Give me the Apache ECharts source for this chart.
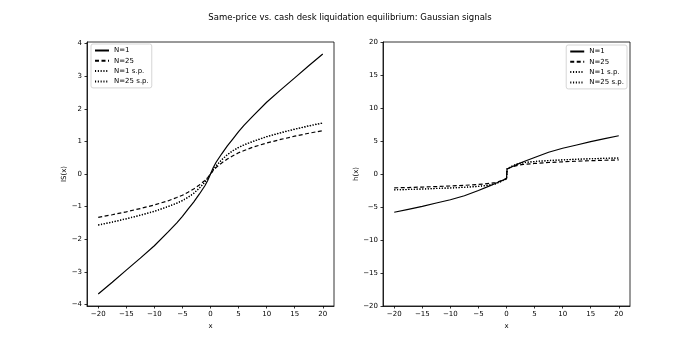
<!DOCTYPE html>
<html>
<head>
<meta charset="utf-8">
<script src="https://cdn.jsdelivr.net/npm/echarts@6/dist/echarts.min.js"></script>
<style>
* { margin: 0; padding: 0; }
body { background: #fff; }
#chart { width: 700px; height: 350px; }
</style>
</head>
<body>
<div id="chart"></div>
<script>
// left panel: S(x)
const xLeft = [-20, -17.5, -15, -12.5, -10, -7.5, -6, -5, -4, -3, -2, -1, -0.5, 0, 0.5, 1, 2, 3, 4, 5, 6, 7.5, 10, 12.5, 15, 17.5, 20]
const sN1 = [-3.68, -3.32, -2.95, -2.58, -2.2, -1.77, -1.5, -1.3, -1.08, -0.86, -0.62, -0.36, -0.2, 0, 0.2, 0.36, 0.62, 0.86, 1.08, 1.3, 1.5, 1.77, 2.2, 2.58, 2.95, 3.32, 3.68]
const sN25 = [-1.33, -1.25, -1.16, -1.06, -0.95, -0.82, -0.72, -0.65, -0.56, -0.46, -0.34, -0.2, -0.11, 0, 0.11, 0.2, 0.34, 0.46, 0.56, 0.65, 0.72, 0.82, 0.95, 1.06, 1.16, 1.25, 1.33]
const sN1sp = [-1.57, -1.48, -1.38, -1.27, -1.15, -1.0, -0.9, -0.82, -0.72, -0.6, -0.44, -0.25, -0.13, 0, 0.13, 0.25, 0.44, 0.6, 0.72, 0.82, 0.9, 1.0, 1.15, 1.27, 1.38, 1.48, 1.57]
const sN25sp = [-1.56, -1.47, -1.37, -1.26, -1.14, -0.99, -0.89, -0.81, -0.71, -0.59, -0.43, -0.25, -0.13, 0, 0.13, 0.25, 0.43, 0.59, 0.71, 0.81, 0.89, 0.99, 1.14, 1.26, 1.37, 1.47, 1.56]

// right panel: h(x)
const xRight = [-20, -17.5, -15, -12.5, -10, -7.5, -5, -3, -2, -1, 0, 0.1, 1, 2, 3, 5, 7.5, 10, 12.5, 15, 17.5, 20]
const hN1 = [-5.8, -5.35, -4.9, -4.4, -3.9, -3.3, -2.5, -1.8, -1.45, -1.05, -0.7, 0.75, 1.1, 1.5, 1.85, 2.5, 3.3, 3.9, 4.4, 4.9, 5.35, 5.8]
const hN25 = [-2.1, -2.05, -1.98, -1.9, -1.82, -1.72, -1.58, -1.42, -1.3, -1.05, -0.7, 0.75, 1.1, 1.32, 1.45, 1.6, 1.74, 1.85, 1.94, 2.02, 2.08, 2.13]
const hN1sp = [-2.4, -2.35, -2.28, -2.2, -2.12, -2.02, -1.88, -1.68, -1.5, -1.15, -0.75, 0.8, 1.2, 1.55, 1.72, 1.9, 2.04, 2.15, 2.24, 2.32, 2.38, 2.43]
const hN25sp = [-2.39, -2.34, -2.27, -2.19, -2.11, -2.01, -1.87, -1.67, -1.49, -1.14, -0.74, 0.79, 1.19, 1.54, 1.71, 1.89, 2.03, 2.14, 2.23, 2.31, 2.37, 2.42]

const xTicks = [-20, -15, -10, -5, 0, 5, 10, 15, 20]
const yTicksLeft = [-4, -3, -2, -1, 0, 1, 2, 3, 4]

const names = ['N=1', 'N=25', 'N=1 s.p.', 'N=25 s.p.']
const font = 'DejaVu Sans'
const minus = v => String(v).replace('-', '\u2212')
const pairs = (xs, ys) => xs.map((x, i) => [x, ys[i]])

const dashTypes = ['solid', [4, 2.5], [1.1, 1.7], [1.1, 1.7]]

function mkSeries(idx, xs, arrs) {
  return arrs.map((ys, i) => ({
    name: names[i],
    type: 'line',
    xAxisIndex: idx,
    yAxisIndex: idx,
    data: pairs(xs, ys),
    symbol: 'none',
    itemStyle: { color: '#000' },
    lineStyle: { color: '#000', width: 1.2, type: dashTypes[i] }
  }))
}

function xAxis(idx) {
  return {
    type: 'value', gridIndex: idx, min: -22, max: 22,
    name: 'x', nameLocation: 'middle', nameGap: 14,
    nameTextStyle: { fontFamily: font, fontSize: 7, color: '#000' },
    axisLine: { onZero: false, lineStyle: { color: '#000', width: 0.8 } },
    axisTick: { length: 2.5, lineStyle: { color: '#000', width: 0.8 }, customValues: xTicks },
    axisLabel: { fontFamily: font, fontSize: 7, color: '#000', margin: 5, customValues: xTicks, formatter: minus },
    splitLine: { show: false }
  }
}

function legend(pos) {
  return Object.assign({
    data: names, orient: 'vertical',
    itemWidth: 14, itemHeight: 7, itemGap: 3.3, padding: [3, 3],
    itemStyle: { opacity: 0 },
    backgroundColor: 'rgba(255,255,255,0.8)', borderColor: '#cccccc', borderWidth: 0.8, borderRadius: 2,
    textStyle: { fontFamily: font, fontSize: 7, color: '#000', lineHeight: 7 }
  }, pos)
}

const chart = echarts.init(document.getElementById('chart'))
chart.setOption({
  animation: false,
  backgroundColor: '#fff',
  title: {
    text: 'Same-price vs. cash desk liquidation equilibrium: Gaussian signals',
    left: 'center', top: 8,
    textStyle: { fontFamily: font, fontSize: 8.5, fontWeight: 'normal', color: '#000' }
  },
  legend: [legend({ left: 91, top: 44 }), legend({ right: 73, top: 45 })],
  grid: [
    { left: 87, top: 42, width: 247, height: 264, show: true, borderColor: '#000', borderWidth: 0.8 },
    { left: 383, top: 42, width: 247, height: 264, show: true, borderColor: '#000', borderWidth: 0.8 }
  ],
  xAxis: [xAxis(0), xAxis(1)],
  yAxis: [
    {
      type: 'value', gridIndex: 0, min: -4.05, max: 4.05,
      name: 'IS(x)', nameLocation: 'middle', nameGap: 17,
      nameTextStyle: { fontFamily: font, fontSize: 7, color: '#000' },
      axisLine: { show: true, onZero: false, lineStyle: { color: '#000', width: 0.8 } },
      axisTick: { show: true, length: 2.5, lineStyle: { color: '#000', width: 0.8 }, customValues: yTicksLeft },
      axisLabel: { fontFamily: font, fontSize: 7, color: '#000', margin: 5, customValues: yTicksLeft, formatter: minus },
      splitLine: { show: false }
    },
    {
      type: 'value', gridIndex: 1, min: -20, max: 20, interval: 5,
      name: 'h(x)', nameLocation: 'middle', nameGap: 23,
      nameTextStyle: { fontFamily: font, fontSize: 7, color: '#000' },
      axisLine: { show: true, onZero: false, lineStyle: { color: '#000', width: 0.8 } },
      axisTick: { show: true, length: 2.5, lineStyle: { color: '#000', width: 0.8 } },
      axisLabel: { fontFamily: font, fontSize: 7, color: '#000', margin: 5, formatter: minus },
      splitLine: { show: false }
    }
  ],
  series: [
    ...mkSeries(0, xLeft, [sN1, sN25, sN1sp, sN25sp]),
    ...mkSeries(1, xRight, [hN1, hN25, hN1sp, hN25sp])
  ]
})
</script>
</body>
</html>
